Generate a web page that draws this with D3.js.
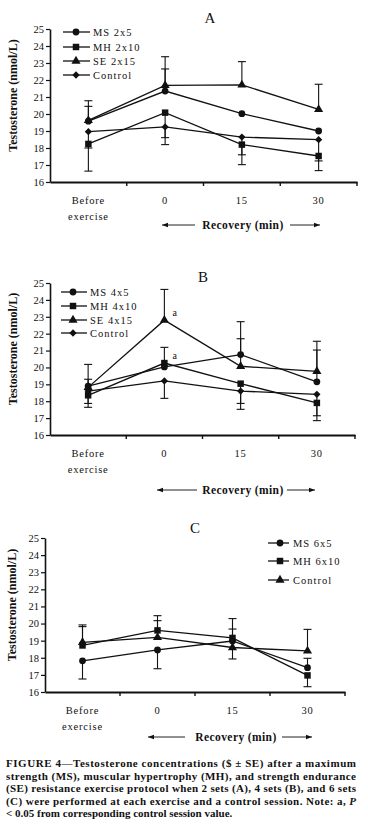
<!DOCTYPE html>
<html><head><meta charset="utf-8">
<script src="https://cdn.jsdelivr.net/npm/d3@7"></script>
<style>
html,body{margin:0;padding:0;background:#fff;}
svg{display:block;}
text{font-family:"Liberation Serif","Times New Roman",serif;fill:#111;}
</style></head>
<body><svg id="c" width="368" height="838"></svg>
<script>
// ---- data ----
const categories = ["Before exercise", "0", "15", "30"];
const yTicks = [16, 17, 18, 19, 20, 21, 22, 23, 24, 25];

// Panel A (2 sets)
const legendA = ["MS 2x5", "MH 2x10", "SE 2x15", "Control"];
const msA = [19.58, 21.35, 20.02, 19.0];
const msAerr = [0.87, 1.3, null, null];
const mhA = [18.24, 20.08, 18.2, 17.53];
const mhAerr = [-1.6, -1.47, -1.18, -0.86];
const seA = [19.62, 21.68, 21.71, 20.27];
const seAerr = [1.16, 1.69, 1.37, 1.48];
const ctA = [18.96, 19.24, 18.64, 18.49];
const ctAerr = [-0.96, -1.04, -1.04, -1.25];

// Panel B (4 sets)
const legendB = ["MS 4x5", "MH 4x10", "SE 4x15", "Control"];
const msB = [18.9, 20.03, 20.76, 19.15];
const msBerr = [0.4, null, 1.95, 1.88];
const mhB = [18.35, 20.26, 19.04, 17.9];
const mhBerr = [-0.71, 0.93, -1.52, -1.05];
const seB = [18.82, 22.8, 20.07, 19.77];
const seBerr = [1.36, 1.82, 1.63, 1.78];
const ctB = [18.6, 19.2, 18.6, 18.41];
const ctBerr = [-0.73, -1.03, -0.73, -1.27];
const sigB = ["SE 4x15", "MH 4x10"]; // "a" at 0 min

// Panel C (6 sets)
const legendC = ["MS 6x5", "MH 6x10", "Control"];
const msC = [17.82, 18.46, 18.98, 17.42];
const msCerr = [-1.06, -1.1, 0.7, 0.55];
const mhC = [18.72, 19.6, 19.16, 16.97];
const mhCerr = [1.1, 0.86, 1.13, -0.66];
const ctC = [18.9, 19.19, 18.6, 18.4];
const ctCerr = [1.02, 0.98, -0.67, 1.26];

const captionLines = [
  "FIGURE 4\u2014Testosterone concentrations ($ \u00b1 SE) after a maximum",
  "strength (MS), muscular hypertrophy (MH), and strength endurance",
  "(SE) resistance exercise protocol when 2 sets (A), 4 sets (B), and 6 sets",
  "(C) were performed at each exercise and a control session. Note: a, P",
  "< 0.05 from corresponding control session value."
];

// ---- drawing ----
const svg = d3.select("#c");
const symTypes = {circle: d3.symbolCircle, square: d3.symbolSquare, triangle: d3.symbolTriangle,
  diamond: d3.symbolDiamond2 || d3.symbolDiamond};
const symSize = {circle: 36, square: 42, triangle: 36, diamond: 34};

function panel(cfg) {
  const g = svg.append("g");
  const x = d3.scaleBand().domain(categories).range([cfg.x0, cfg.x1]).padding(0);
  const y = d3.scaleLinear().domain([16, 25]).range([cfg.yb, cfg.yt]);
  const cx = d => x(d) + x.bandwidth() / 2;

  // title
  g.append("text").attr("x", cfg.titleX).attr("y", cfg.titleY).attr("text-anchor", "middle")
    .style("font-size", "15px").text(cfg.title);

  // y axis
  const ya = d3.axisLeft(y).tickValues(yTicks).tickSize(4).tickSizeOuter(0).tickFormat(d3.format("d"));
  const yg = g.append("g").attr("transform", `translate(${cfg.x0},0)`).call(ya);
  yg.select(".domain").attr("stroke", "#111").attr("stroke-width", 1.6);
  yg.selectAll(".tick line").attr("stroke", "#111").attr("stroke-width", 1.2);
  yg.selectAll(".tick text").attr("x", -6).style("font-family", "Liberation Serif, serif")
    .style("font-size", "10.5px").attr("fill", "#222");

  // x axis
  const xa = d3.axisBottom(x).tickSize(0).tickFormat("");
  const xg = g.append("g").attr("transform", `translate(0,${cfg.yb})`).call(xa);
  xg.select(".domain").attr("stroke", "#111").attr("stroke-width", 2);
  const bounds = categories.map(c => x(c) + x.bandwidth());
  xg.selectAll(".bt").data(bounds).enter().append("line")
    .attr("x1", d => d).attr("x2", d => d).attr("y1", 0).attr("y2", 4)
    .attr("stroke", "#111").attr("stroke-width", 1.4);

  // category labels
  categories.forEach(c => {
    const parts = c === "Before exercise" ? ["Before", "exercise"] : [c];
    parts.forEach((p, i) => {
      g.append("text").attr("x", cx(c)).attr("y", cfg.yb + 22 + i * 16)
        .attr("text-anchor", "middle").style("font-size", "10.5px").style("letter-spacing", "0.8px")
        .attr("fill", "#333").text(p);
    });
  });

  // y label
  g.append("text").attr("transform", `translate(${cfg.ylabX},${(cfg.yt + cfg.yb) / 2 - 10}) rotate(-90)`)
    .attr("text-anchor", "middle").style("font-size", "12px").style("font-weight", "bold")
    .text("Testosterone (nmol/L)");

  // recovery label + arrows
  const ry = cfg.recY;
  g.append("text").attr("x", cfg.recX).attr("y", ry).attr("text-anchor", "middle")
    .style("font-size", "11.5px").style("font-weight", "bold").style("letter-spacing", "0.4px")
    .text("Recovery (min)");
  [[cfg.arrL[1], cfg.arrL[0]], [cfg.arrR[0], cfg.arrR[1]]].forEach(([a, b]) => {
    g.append("line").attr("x1", a).attr("x2", b).attr("y1", ry - 4).attr("y2", ry - 4)
      .attr("stroke", "#222").attr("stroke-width", 1);
    const dir = b > a ? -1 : 1;
    g.append("path").attr("d", `M${b},${ry - 4}L${b + dir * 6},${ry - 6.2}L${b + dir * 6},${ry - 1.8}Z`).attr("fill", "#111");
  });

  // series
  const line = d3.line().x((d, i) => cx(categories[i])).y(d => y(d));
  cfg.series.forEach(s => {
    g.append("path").datum(s.values).attr("d", line).attr("fill", "none")
      .attr("stroke", "#111").attr("stroke-width", 1.3);
  });
  cfg.series.forEach(s => {
    s.errs.forEach((e, i) => {
      if (e == null) return;
      const xc = cx(categories[i]);
      const y1 = y(s.values[i]), y2 = y(s.values[i] + e);
      g.append("line").attr("x1", xc).attr("x2", xc).attr("y1", y1).attr("y2", y2)
        .attr("stroke", "#111").attr("stroke-width", 1.1);
      g.append("line").attr("x1", xc - 4).attr("x2", xc + 4).attr("y1", y2).attr("y2", y2)
        .attr("stroke", "#111").attr("stroke-width", 1.1);
    });
  });
  cfg.series.forEach(s => {
    g.selectAll(null).data(s.values).enter().append("path")
      .attr("transform", (d, i) => `translate(${cx(categories[i])},${y(d)})`)
      .attr("d", d3.symbol(symTypes[s.sym], symSize[s.sym])).attr("fill", "#111");
    if (s.sig) {
      s.sig.forEach(i => {
        g.append("text").attr("x", cx(categories[i]) + 8).attr("y", y(s.values[i]) - 4)
          .style("font-size", "10px").text("a");
      });
    }
  });

  // legend
  const L = cfg.legend;
  cfg.series.forEach((s, k) => {
    const ly = L.rows[k];
    g.append("line").attr("x1", L.x1).attr("x2", L.x2).attr("y1", ly).attr("y2", ly)
      .attr("stroke", "#111").attr("stroke-width", 1.3);
    g.append("path").attr("transform", `translate(${L.xm},${ly})`)
      .attr("d", d3.symbol(symTypes[s.sym], symSize[s.sym])).attr("fill", "#111");
    g.append("text").attr("x", L.xt).attr("y", ly + 3.5).style("font-size", "10.5px")
      .style("letter-spacing", "1px").attr("fill", "#222").text(s.name);
  });
}

panel({
  title: "A", titleX: 210, titleY: 23,
  x0: 50, x1: 357, yt: 29, yb: 182, ylabX: 17,
  recX: 243, recY: 229, arrL: [162, 195], arrR: [290, 320],
  legend: {x1: 63, x2: 90, xm: 76, xt: 93, rows: [32, 47, 61, 75]},
  series: [
    {name: legendA[0], values: msA, errs: msAerr, sym: "circle"},
    {name: legendA[1], values: mhA, errs: mhAerr, sym: "square"},
    {name: legendA[2], values: seA, errs: seAerr, sym: "triangle"},
    {name: legendA[3], values: ctA, errs: ctAerr, sym: "diamond"}
  ]
});

panel({
  title: "B", titleX: 203, titleY: 282,
  x0: 50, x1: 355, yt: 283, yb: 435, ylabX: 17,
  recX: 243, recY: 494, arrL: [157, 197], arrR: [287, 315],
  legend: {x1: 61, x2: 87, xm: 73, xt: 90, rows: [292, 306, 320, 333]},
  series: [
    {name: legendB[0], values: msB, errs: msBerr, sym: "circle"},
    {name: legendB[1], values: mhB, errs: mhBerr, sym: "square", sig: [categories.indexOf("0")].filter(() => sigB.includes(legendB[1]))},
    {name: legendB[2], values: seB, errs: seBerr, sym: "triangle", sig: [categories.indexOf("0")].filter(() => sigB.includes(legendB[2]))},
    {name: legendB[3], values: ctB, errs: ctBerr, sym: "diamond"}
  ]
});

panel({
  title: "C", titleX: 195, titleY: 533,
  x0: 45, x1: 345, yt: 538, yb: 692, ylabX: 16,
  recX: 236, recY: 741, arrL: [148, 185], arrR: [282, 312],
  legend: {x1: 268, x2: 289, xm: 280, xt: 293, rows: [543, 561, 580]},
  series: [
    {name: legendC[0], values: msC, errs: msCerr, sym: "circle"},
    {name: legendC[1], values: mhC, errs: mhCerr, sym: "square"},
    {name: legendC[2], values: ctC, errs: ctCerr, sym: "triangle"}
  ]
});

// caption
const cap = svg.append("g");
captionLines.forEach((t, i) => {
  const tx = cap.append("text").attr("x", 6).attr("y", 767 + i * 12.5)
    .style("font-size", "11px").style("font-weight", "bold").attr("fill", "#111");
  if (i < captionLines.length - 1) tx.attr("textLength", 350).attr("lengthAdjust", "spacing");
  if (i === 3) {
    tx.text(t.slice(0, -1));
    tx.append("tspan").style("font-style", "italic").text("P");
  } else tx.text(t);
});
</script></body></html>
